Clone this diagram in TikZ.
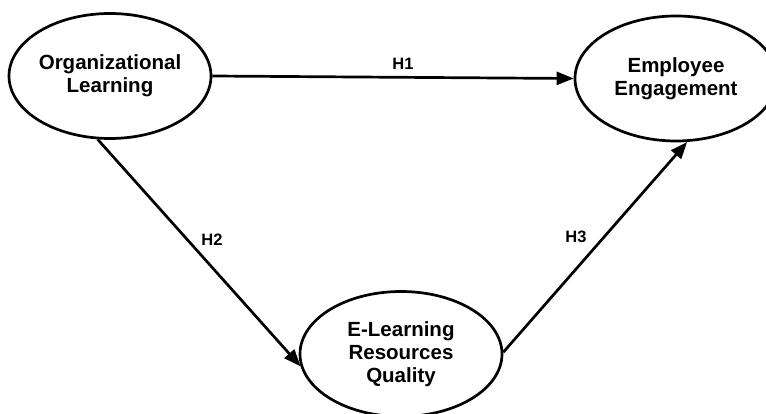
\documentclass[tikz,border=0pt]{standalone}
\usepackage{fontspec}
\setmainfont{Liberation Sans}
\usetikzlibrary{shapes.geometric,arrows.meta}
\begin{document}
\begin{tikzpicture}[x=1pt,y=1pt,
  construct/.style={ellipse,draw,line width=2.7pt,minimum width=202pt,minimum height=125pt,inner sep=0pt,
    align=center,font=\bfseries\fontsize{20.5}{23}\selectfont},
  path/.style={line width=2.7pt,-{Triangle[length=17pt,width=13pt]}},
  hlabel/.style={font=\bfseries\fontsize{16.5}{18}\selectfont}]
\useasboundingbox (0,0) rectangle (766,-414);
\node[construct] (ol) at (110,-76) {Organizational\\Learning};
\node[construct] (ee) at (676,-78.5) {Employee\\Engagement};
\node[construct] (el) at (401,-354) {E-Learning\\Resources\\Quality};
\draw[path] (ol.east) -- (ee.west);
\draw[path] (ol.-101) -- (el.187);
\draw[path] (el.1) -- (ee.-80);
\node[hlabel] (h1) at (403,-64) {H1};
\node[hlabel] (h2) at (212,-240) {H2};
\node[hlabel] (h3) at (576,-237) {H3};
\end{tikzpicture}
\end{document}
